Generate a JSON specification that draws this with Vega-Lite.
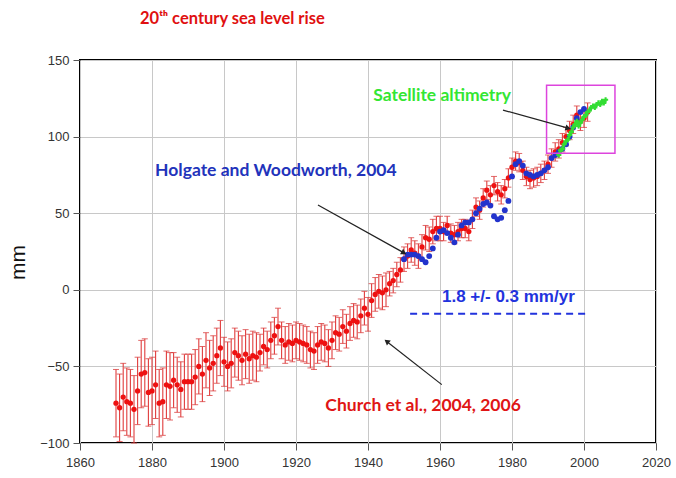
{
  "$schema": "https://vega.github.io/schema/vega-lite/v6.json",
  "width": 576,
  "height": 383,
  "autosize": {"type": "none"},
  "padding": {"left": 80, "top": 60, "right": 20, "bottom": 35},
  "background": "white",
  "title": {
    "text": "20ᵗʰ century sea level rise",
    "anchor": "start",
    "frame": "group",
    "dx": 60,
    "offset": 27,
    "font": "Lato",
    "fontSize": 16.5,
    "fontWeight": "bold",
    "color": "#e01010"
  },
  "config": {
    "view": {"stroke": "#000000", "strokeWidth": 2},
    "axis": {
      "grid": true,
      "gridColor": "#c8c8c8",
      "gridWidth": 1,
      "domain": false,
      "tickColor": "#555555",
      "tickSize": 7,
      "labelFont": "Liberation Sans",
      "labelFontSize": 13,
      "labelColor": "#333333",
      "labelPadding": 4,
      "labelFlush": false,
      "labelOverlap": false
    }
  },
  "datasets": {
    "church": [
      {"year":1870,"mm":-74,"err":22},{"year":1871,"mm":-77,"err":22},{"year":1872,"mm":-70,"err":22},{"year":1873,"mm":-73,"err":22},{"year":1874,"mm":-74,"err":22},{"year":1875,"mm":-78,"err":22},{"year":1876,"mm":-66,"err":22},{"year":1877,"mm":-55,"err":22},{"year":1878,"mm":-54,"err":22},{"year":1879,"mm":-67,"err":22},
      {"year":1880,"mm":-66,"err":22},{"year":1881,"mm":-62,"err":22},{"year":1882,"mm":-74,"err":22},{"year":1883,"mm":-73,"err":22},{"year":1884,"mm":-62,"err":22},{"year":1885,"mm":-63,"err":22},{"year":1886,"mm":-59,"err":18},{"year":1887,"mm":-62,"err":18},{"year":1888,"mm":-65,"err":18},{"year":1889,"mm":-60,"err":18},
      {"year":1890,"mm":-60,"err":18},{"year":1891,"mm":-60,"err":18},{"year":1892,"mm":-57,"err":18},{"year":1893,"mm":-50,"err":18},{"year":1894,"mm":-55,"err":18},{"year":1895,"mm":-46,"err":18},{"year":1896,"mm":-51,"err":18},{"year":1897,"mm":-48,"err":18},{"year":1898,"mm":-43,"err":18},{"year":1899,"mm":-38,"err":18},
      {"year":1900,"mm":-47,"err":16},{"year":1901,"mm":-50,"err":16},{"year":1902,"mm":-48,"err":16},{"year":1903,"mm":-41,"err":16},{"year":1904,"mm":-43,"err":16},{"year":1905,"mm":-46,"err":16},{"year":1906,"mm":-42,"err":16},{"year":1907,"mm":-45,"err":16},{"year":1908,"mm":-43,"err":16},{"year":1909,"mm":-44,"err":16},
      {"year":1910,"mm":-41,"err":12},{"year":1911,"mm":-37,"err":12},{"year":1912,"mm":-39,"err":12},{"year":1913,"mm":-33,"err":12},{"year":1914,"mm":-30,"err":12},{"year":1915,"mm":-24,"err":12},{"year":1916,"mm":-33,"err":12},{"year":1917,"mm":-36,"err":12},{"year":1918,"mm":-34,"err":12},{"year":1919,"mm":-35,"err":12},
      {"year":1920,"mm":-33,"err":12},{"year":1921,"mm":-34,"err":12},{"year":1922,"mm":-35,"err":12},{"year":1923,"mm":-36,"err":12},{"year":1924,"mm":-39,"err":12},{"year":1925,"mm":-40,"err":12},{"year":1926,"mm":-36,"err":12},{"year":1927,"mm":-34,"err":12},{"year":1928,"mm":-35,"err":12},{"year":1929,"mm":-38,"err":12},
      {"year":1930,"mm":-33,"err":12},{"year":1931,"mm":-28,"err":11},{"year":1932,"mm":-29,"err":11},{"year":1933,"mm":-24,"err":11},{"year":1934,"mm":-27,"err":11},{"year":1935,"mm":-22,"err":11},{"year":1936,"mm":-20,"err":11},{"year":1937,"mm":-21,"err":11},{"year":1938,"mm":-17,"err":11},{"year":1939,"mm":-12,"err":11},
      {"year":1940,"mm":-16,"err":11},{"year":1941,"mm":-7,"err":11},{"year":1942,"mm":-3,"err":11},{"year":1943,"mm":-1,"err":11},{"year":1944,"mm":-2,"err":11},{"year":1945,"mm":0,"err":11},{"year":1946,"mm":4,"err":8},{"year":1947,"mm":6,"err":8},{"year":1948,"mm":10,"err":8},{"year":1949,"mm":13,"err":8},
      {"year":1950,"mm":20,"err":8},{"year":1951,"mm":22,"err":8},{"year":1952,"mm":26,"err":8},{"year":1953,"mm":24,"err":8},{"year":1954,"mm":22,"err":8},{"year":1955,"mm":28,"err":8},{"year":1956,"mm":34,"err":8},{"year":1957,"mm":33,"err":8},{"year":1958,"mm":38,"err":8},{"year":1959,"mm":40,"err":8},
      {"year":1960,"mm":40,"err":8},{"year":1961,"mm":38,"err":6},{"year":1962,"mm":42,"err":6},{"year":1963,"mm":37,"err":6},{"year":1964,"mm":36,"err":6},{"year":1965,"mm":38,"err":6},{"year":1966,"mm":40,"err":6},{"year":1967,"mm":40,"err":6},{"year":1968,"mm":38,"err":6},{"year":1969,"mm":46,"err":6},
      {"year":1970,"mm":54,"err":6},{"year":1971,"mm":52,"err":6},{"year":1972,"mm":60,"err":6},{"year":1973,"mm":65,"err":6},{"year":1974,"mm":62,"err":6},{"year":1975,"mm":68,"err":6},{"year":1976,"mm":64,"err":6},{"year":1977,"mm":62,"err":6},{"year":1978,"mm":66,"err":6},{"year":1979,"mm":73,"err":6},
      {"year":1980,"mm":80,"err":6},{"year":1981,"mm":84,"err":6},{"year":1982,"mm":83,"err":6},{"year":1983,"mm":78,"err":6},{"year":1984,"mm":74,"err":6},{"year":1985,"mm":72,"err":6},{"year":1986,"mm":73,"err":6},{"year":1987,"mm":74,"err":6},{"year":1988,"mm":76,"err":6},{"year":1989,"mm":78,"err":6},
      {"year":1990,"mm":82,"err":6},{"year":1991,"mm":86,"err":6},{"year":1992,"mm":90,"err":6},{"year":1993,"mm":92,"err":6},{"year":1994,"mm":96,"err":6},{"year":1995,"mm":100,"err":6},{"year":1996,"mm":104,"err":6},{"year":1997,"mm":108,"err":6},{"year":1998,"mm":114,"err":6},{"year":1999,"mm":110,"err":6},
      {"year":2000,"mm":112,"err":6},{"year":2001,"mm":116,"err":6}
    ],
    "holgate": [
      {"year":1950,"mm":20},{"year":1951,"mm":23},{"year":1952,"mm":23},{"year":1953,"mm":23},{"year":1954,"mm":22},{"year":1955,"mm":20},{"year":1956,"mm":18},{"year":1957,"mm":22},{"year":1958,"mm":27},{"year":1959,"mm":34},
      {"year":1960,"mm":38},{"year":1961,"mm":39},{"year":1962,"mm":37},{"year":1963,"mm":34},{"year":1964,"mm":31},{"year":1965,"mm":36},{"year":1966,"mm":42},{"year":1967,"mm":44},{"year":1968,"mm":44},{"year":1969,"mm":46},
      {"year":1970,"mm":50},{"year":1971,"mm":53},{"year":1972,"mm":56},{"year":1973,"mm":57},{"year":1974,"mm":55},{"year":1975,"mm":48},{"year":1976,"mm":46},{"year":1977,"mm":47},{"year":1978,"mm":52},{"year":1979,"mm":58},
      {"year":1980,"mm":74},{"year":1981,"mm":82},{"year":1982,"mm":84},{"year":1983,"mm":81},{"year":1984,"mm":76},{"year":1985,"mm":75},{"year":1986,"mm":74},{"year":1987,"mm":75},{"year":1988,"mm":76},{"year":1989,"mm":78},
      {"year":1990,"mm":80},{"year":1991,"mm":86},{"year":1992,"mm":88},{"year":1993,"mm":90},{"year":1994,"mm":92},{"year":1995,"mm":95},{"year":1996,"mm":100},{"year":1997,"mm":106},{"year":1998,"mm":112},{"year":1999,"mm":116},{"year":2000,"mm":118}
    ],
    "sat": [
      {"year":1993.0,"mm":88},{"year":1993.5,"mm":91},{"year":1994.0,"mm":92},{"year":1994.5,"mm":95},{"year":1995.0,"mm":97},{"year":1995.5,"mm":98},{"year":1996.0,"mm":101},{"year":1996.5,"mm":103},{"year":1997.0,"mm":106},{"year":1997.5,"mm":108},
      {"year":1998.0,"mm":110},{"year":1998.5,"mm":107},{"year":1999.0,"mm":109},{"year":1999.5,"mm":111},{"year":2000.0,"mm":113},{"year":2000.5,"mm":114},{"year":2001.0,"mm":116},{"year":2001.5,"mm":117},{"year":2002.0,"mm":119},{"year":2002.5,"mm":120},
      {"year":2003.0,"mm":119},{"year":2003.5,"mm":121},{"year":2004.0,"mm":122},{"year":2004.5,"mm":121},{"year":2005.0,"mm":123},{"year":2005.5,"mm":122},{"year":2006.0,"mm":124}
    ],
    "notes": [
      {"label":"Holgate and Woodworth, 2004","year":1914.4,"mm":77.5,"kind":"holgate"},
      {"label":"Satellite altimetry","year":1960.6,"mm":126.4,"kind":"sat"},
      {"label":"Church et al., 2004, 2006","year":1955.3,"mm":-75.6,"kind":"church"}
    ],
    "arrows": [
      {"id":"h","year":1926.1,"mm":55.4,"year2":1950.0,"mm2":24.1},
      {"id":"s","year":1977.5,"mm":117.3,"year2":1995.6,"mm2":105.5},
      {"id":"c","year":1960.5,"mm":-61.9,"year2":1945.2,"mm2":-33.7}
    ]
  },
  "layer": [
    {
      "data": {"name": "church"},
      "mark": {"type": "errorbar", "ticks": {"size": 6, "color": "#d42a2a"}, "rule": {"color": "#e03c3c", "strokeWidth": 1.1}},
      "encoding": {
        "x": {"field": "year", "type": "quantitative", "scale": {"domain": [1860, 2020], "nice": false}, "axis": {"values": [1860,1880,1900,1920,1940,1960,1980,2000,2020], "title": null, "format": "d", "labelPadding": 6}},
        "y": {"field": "mm", "type": "quantitative", "scale": {"domain": [-100, 150], "nice": false, "zero": false}, "axis": {"values": [-100,-50,0,50,100,150], "title": "mm", "titleFont": "Liberation Sans", "titleFontSize": 21, "titleFontWeight": "normal", "titleColor": "#111111", "titleX": -52, "titleY": 202}},
        "yError": {"field": "err"}
      }
    },
    {
      "data": {"name": "church"},
      "mark": {"type": "circle", "size": 28, "color": "#ee1111", "opacity": 1},
      "encoding": {
        "x": {"field": "year", "type": "quantitative"},
        "y": {"field": "mm", "type": "quantitative"}
      }
    },
    {
      "data": {"name": "holgate"},
      "mark": {"type": "circle", "size": 34, "color": "#2233cc", "opacity": 1},
      "encoding": {
        "x": {"field": "year", "type": "quantitative"},
        "y": {"field": "mm", "type": "quantitative"}
      }
    },
    {
      "data": {"name": "sat"},
      "mark": {"type": "line", "color": "#33dd33", "strokeWidth": 2.5},
      "encoding": {
        "x": {"field": "year", "type": "quantitative"},
        "y": {"field": "mm", "type": "quantitative"}
      }
    },
    {
      "data": {"name": "sat"},
      "mark": {"type": "point", "shape": "cross", "size": 26, "filled": true, "color": "#33dd33", "opacity": 1},
      "encoding": {
        "x": {"field": "year", "type": "quantitative"},
        "y": {"field": "mm", "type": "quantitative"}
      }
    },
    {
      "data": {"values": [{"x1": 1989.6, "x2": 2008.6, "y1": 89.2, "y2": 133.5}]},
      "mark": {"type": "rect", "fill": null, "fillOpacity": 0, "stroke": "#dd44dd", "strokeWidth": 1.5},
      "encoding": {
        "x": {"field": "x1", "type": "quantitative"},
        "x2": {"field": "x2"},
        "y": {"field": "y1", "type": "quantitative"},
        "y2": {"field": "y2"}
      }
    },
    {
      "data": {"values": [{"x1": 1951.7, "x2": 2001.7, "y": -15.6}]},
      "mark": {"type": "rule", "color": "#2233dd", "strokeWidth": 2, "strokeDash": [7, 5]},
      "encoding": {
        "x": {"field": "x1", "type": "quantitative"},
        "x2": {"field": "x2"},
        "y": {"field": "y", "type": "quantitative"}
      }
    },
    {
      "data": {"values": [{"label": "1.8 +/- 0.3 mm/yr", "year": 1979.0, "mm": -4.6}]},
      "mark": {"type": "text", "font": "Liberation Sans", "fontSize": 17, "fontWeight": "bold", "color": "#2233dd", "align": "center", "baseline": "middle"},
      "encoding": {
        "x": {"field": "year", "type": "quantitative"},
        "y": {"field": "mm", "type": "quantitative"},
        "text": {"field": "label"}
      }
    },
    {
      "data": {"name": "arrows"},
      "mark": {"type": "rule", "color": "#222222", "strokeWidth": 1.2},
      "encoding": {
        "x": {"field": "year", "type": "quantitative"},
        "y": {"field": "mm", "type": "quantitative"},
        "x2": {"field": "year2"},
        "y2": {"field": "mm2"}
      }
    },
    {
      "data": {"name": "arrows"},
      "transform": [{"filter": "datum.id === 'h'"}],
      "mark": {"type": "point", "shape": "triangle-up", "size": 40, "filled": true, "color": "#222222", "opacity": 1, "angle": 119},
      "encoding": {
        "x": {"field": "year2", "type": "quantitative"},
        "y": {"field": "mm2", "type": "quantitative"}
      }
    },
    {
      "data": {"name": "arrows"},
      "transform": [{"filter": "datum.id === 's'"}],
      "mark": {"type": "point", "shape": "triangle-up", "size": 40, "filled": true, "color": "#222222", "opacity": 1, "angle": 105},
      "encoding": {
        "x": {"field": "year2", "type": "quantitative"},
        "y": {"field": "mm2", "type": "quantitative"}
      }
    },
    {
      "data": {"name": "arrows"},
      "transform": [{"filter": "datum.id === 'c'"}],
      "mark": {"type": "point", "shape": "triangle-up", "size": 40, "filled": true, "color": "#222222", "opacity": 1, "angle": 308},
      "encoding": {
        "x": {"field": "year2", "type": "quantitative"},
        "y": {"field": "mm2", "type": "quantitative"}
      }
    },
    {
      "data": {"name": "notes"},
      "mark": {"type": "text", "font": "Lato", "fontSize": 17.5, "fontWeight": "bold", "align": "center", "baseline": "middle"},
      "encoding": {
        "x": {"field": "year", "type": "quantitative"},
        "y": {"field": "mm", "type": "quantitative"},
        "text": {"field": "label"},
        "color": {"field": "kind", "type": "nominal", "scale": {"domain": ["holgate", "sat", "church"], "range": ["#2233bb", "#33e633", "#e01515"]}, "legend": null}
      }
    }
  ]
}
